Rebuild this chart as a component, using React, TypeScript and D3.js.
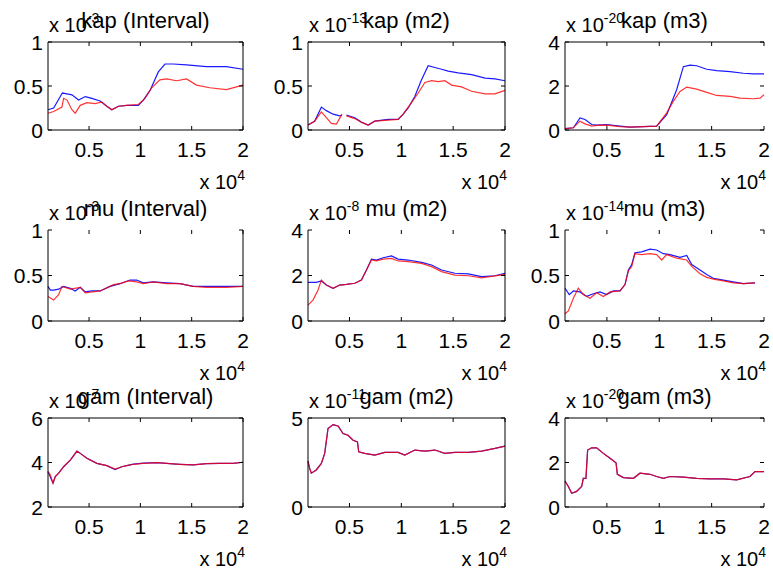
import React from "react";
import * as d3 from "d3";

type Pt = [number, number | null];

// x axis is shared by every panel (values in units of 10^4)
const xDomain = [0.1, 2];
const xTicks = [0.5, 1, 1.5, 2];
const xTickLabels = ["0.5", "1", "1.5", "2"];

// kap
const kapIntBlue: Pt[] = [[0.1,0.23],[0.155,0.25],[0.22,0.38],[0.24,0.42],[0.285,0.41],[0.333,0.4],[0.398,0.34],[0.463,0.38],[0.527,0.36],[0.608,0.33],[0.673,0.27],[0.722,0.23],[0.786,0.27],[0.867,0.28],[0.98,0.28],[1.029,0.34],[1.094,0.45],[1.175,0.66],[1.24,0.75],[1.32,0.75],[1.45,0.74],[1.644,0.72],[1.838,0.72],[2.0,0.69]];
const kapIntRed: Pt[] = [[0.1,0.19],[0.155,0.21],[0.236,0.26],[0.252,0.36],[0.285,0.34],[0.333,0.23],[0.365,0.19],[0.414,0.28],[0.479,0.31],[0.56,0.3],[0.624,0.32],[0.673,0.27],[0.722,0.23],[0.786,0.27],[0.867,0.28],[0.98,0.29],[1.045,0.36],[1.11,0.48],[1.19,0.57],[1.256,0.58],[1.353,0.56],[1.45,0.58],[1.547,0.51],[1.676,0.48],[1.838,0.46],[2.0,0.51]];
const kapM2Blue: Pt[] = [[0.1,0.056],[0.164,0.1],[0.229,0.26],[0.277,0.22],[0.342,0.18],[0.406,0.16],[0.428,0.17],[0.45,null],[0.47,0.17],[0.551,0.14],[0.615,0.09],[0.68,0.056],[0.744,0.1],[0.873,0.12],[0.969,0.12],[1.018,0.18],[1.066,0.25],[1.13,0.38],[1.195,0.57],[1.259,0.73],[1.324,0.71],[1.388,0.69],[1.452,0.67],[1.549,0.65],[1.678,0.63],[1.807,0.59],[1.903,0.58],[2.0,0.56]];
const kapM2Red: Pt[] = [[0.1,0.056],[0.164,0.1],[0.229,0.205],[0.277,0.14],[0.325,0.075],[0.374,0.067],[0.428,0.18],[0.45,null],[0.47,0.16],[0.551,0.13],[0.615,0.086],[0.68,0.056],[0.744,0.1],[0.969,0.12],[1.018,0.18],[1.098,0.31],[1.163,0.42],[1.227,0.54],[1.291,0.56],[1.356,0.55],[1.42,0.56],[1.485,0.51],[1.581,0.49],[1.678,0.44],[1.807,0.41],[1.903,0.41],[2.0,0.45]];
const kapM3Blue: Pt[] = [[0.1,0.06],[0.18,0.1],[0.243,0.55],[0.291,0.48],[0.355,0.25],[0.402,0.22],[0.498,0.25],[0.625,0.18],[0.721,0.13],[0.848,0.15],[0.975,0.18],[1.071,0.7],[1.166,1.83],[1.23,2.88],[1.294,2.95],[1.357,2.92],[1.453,2.76],[1.548,2.7],[1.676,2.65],[1.803,2.58],[1.898,2.55],[2.0,2.55]];
const kapM3Red: Pt[] = [[0.1,0.06],[0.18,0.1],[0.243,0.4],[0.291,0.28],[0.355,0.18],[0.402,0.21],[0.498,0.22],[0.625,0.15],[0.721,0.13],[0.975,0.18],[1.071,0.78],[1.134,1.3],[1.198,1.75],[1.262,1.95],[1.357,1.86],[1.453,1.71],[1.548,1.57],[1.676,1.53],[1.771,1.45],[1.898,1.42],[1.962,1.45],[2.0,1.6]];

// mu
const muIntBlue: Pt[] = [[0.1,0.38],[0.123,0.34],[0.155,0.34],[0.204,0.35],[0.252,0.38],[0.317,0.36],[0.365,0.33],[0.414,0.37],[0.463,0.32],[0.527,0.33],[0.608,0.33],[0.705,0.38],[0.802,0.41],[0.9,0.45],[0.964,0.45],[1.029,0.42],[1.126,0.43],[1.256,0.42],[1.385,0.41],[1.515,0.38],[1.644,0.38],[1.838,0.38],[2.0,0.38]];
const muIntRed: Pt[] = [[0.1,0.27],[0.155,0.23],[0.204,0.29],[0.236,0.38],[0.317,0.35],[0.414,0.37],[0.463,0.31],[0.608,0.33],[0.738,0.4],[0.802,0.41],[0.883,0.44],[0.964,0.43],[1.029,0.41],[1.126,0.43],[1.256,0.41],[1.385,0.41],[1.515,0.38],[1.644,0.37],[1.838,0.37],[2.0,0.38]];
const muM2Blue: Pt[] = [[0.1,1.7],[0.18,1.7],[0.229,1.76],[0.277,1.58],[0.342,1.44],[0.406,1.58],[0.47,1.61],[0.551,1.66],[0.615,1.8],[0.664,2.24],[0.712,2.72],[0.76,2.68],[0.825,2.78],[0.905,2.86],[0.969,2.72],[1.066,2.68],[1.195,2.58],[1.291,2.46],[1.388,2.24],[1.517,2.1],[1.646,2.07],[1.774,1.95],[1.903,1.99],[2.0,2.1]];
const muM2Red: Pt[] = [[0.1,0.7],[0.148,0.92],[0.197,1.36],[0.229,1.8],[0.277,1.58],[0.342,1.44],[0.406,1.58],[0.47,1.61],[0.551,1.66],[0.615,1.8],[0.664,2.24],[0.712,2.68],[0.76,2.64],[0.825,2.72],[0.905,2.75],[0.969,2.64],[1.066,2.61],[1.195,2.53],[1.291,2.39],[1.388,2.17],[1.517,2.02],[1.646,1.99],[1.774,1.9],[1.903,1.98],[2.0,2.05]];
const muM3Blue: Pt[] = [[0.1,0.36],[0.141,0.29],[0.18,0.33],[0.243,0.32],[0.307,0.27],[0.371,0.3],[0.434,0.32],[0.498,0.29],[0.562,0.33],[0.625,0.33],[0.673,0.4],[0.705,0.56],[0.737,0.62],[0.768,0.75],[0.832,0.76],[0.912,0.79],[0.975,0.78],[1.039,0.74],[1.103,0.73],[1.198,0.7],[1.262,0.72],[1.31,0.62],[1.389,0.56],[1.453,0.51],[1.516,0.47],[1.612,0.45],[1.707,0.43],[1.803,0.41],[1.914,0.42]];
const muM3Red: Pt[] = [[0.1,0.08],[0.132,0.11],[0.18,0.25],[0.227,0.36],[0.275,0.29],[0.339,0.25],[0.402,0.31],[0.466,0.27],[0.53,0.32],[0.625,0.33],[0.673,0.4],[0.705,0.55],[0.737,0.6],[0.768,0.74],[0.832,0.73],[0.912,0.74],[0.975,0.73],[1.023,0.67],[1.071,0.73],[1.166,0.69],[1.262,0.67],[1.31,0.6],[1.389,0.52],[1.453,0.48],[1.516,0.46],[1.612,0.44],[1.707,0.42],[1.803,0.41],[1.914,0.42]];

// gam
const gamIntBlue: Pt[] = [[0.1,3.59],[0.123,3.35],[0.149,3.07],[0.171,3.37],[0.204,3.52],[0.252,3.81],[0.317,4.11],[0.382,4.51],[0.414,4.41],[0.479,4.19],[0.576,3.96],[0.673,3.86],[0.754,3.68],[0.819,3.81],[0.867,3.86],[0.932,3.93],[1.029,3.97],[1.158,3.99],[1.256,3.96],[1.385,3.92],[1.515,3.89],[1.644,3.95],[1.774,3.96],[1.903,3.96],[2.0,4.01]];
const gamIntRed: Pt[] = [[0.1,3.59],[0.123,3.44],[0.149,3.07],[0.171,3.37],[0.204,3.52],[0.252,3.81],[0.317,4.11],[0.382,4.51],[0.414,4.41],[0.479,4.19],[0.576,3.96],[0.673,3.86],[0.754,3.7],[0.819,3.81],[0.867,3.86],[0.932,3.92],[1.029,3.96],[1.158,3.99],[1.256,3.96],[1.385,3.92],[1.515,3.89],[1.644,3.95],[1.774,3.96],[1.903,3.96],[2.0,4.01]];
const gamM2Blue: Pt[] = [[0.1,2.58],[0.116,2.17],[0.132,1.9],[0.18,2.08],[0.229,2.45],[0.261,3.01],[0.293,4.41],[0.342,4.63],[0.39,4.55],[0.438,4.13],[0.486,4.03],[0.535,3.75],[0.577,3.66],[0.589,3.1],[0.647,3.01],[0.744,2.92],[0.841,3.07],[0.969,3.07],[1.034,2.92],[1.13,3.2],[1.227,3.14],[1.324,3.2],[1.42,3.01],[1.517,3.07],[1.646,3.07],[1.774,3.14],[1.903,3.29],[2.0,3.42]];
const gamM2Red: Pt[] = [[0.1,2.58],[0.116,2.17],[0.132,1.9],[0.18,2.08],[0.229,2.45],[0.261,3.01],[0.293,4.41],[0.342,4.63],[0.39,4.55],[0.438,4.13],[0.486,4.03],[0.535,3.75],[0.577,3.66],[0.589,3.1],[0.647,3.01],[0.744,2.92],[0.841,3.07],[0.969,3.07],[1.034,2.92],[1.13,3.2],[1.227,3.14],[1.324,3.2],[1.42,3.01],[1.517,3.07],[1.646,3.07],[1.774,3.14],[1.903,3.29],[2.0,3.42]];
const gamM3Blue: Pt[] = [[0.1,1.17],[0.132,0.92],[0.164,0.62],[0.211,0.7],[0.259,0.92],[0.275,1.29],[0.3,1.29],[0.316,2.56],[0.355,2.66],[0.402,2.66],[0.466,2.41],[0.53,2.19],[0.587,1.99],[0.6,1.47],[0.657,1.32],[0.753,1.29],[0.816,1.52],[0.912,1.47],[0.975,1.37],[1.039,1.29],[1.103,1.37],[1.23,1.34],[1.357,1.29],[1.485,1.26],[1.612,1.26],[1.739,1.22],[1.866,1.37],[1.914,1.59],[2.0,1.59]];
const gamM3Red: Pt[] = [[0.1,1.17],[0.132,0.92],[0.164,0.62],[0.211,0.7],[0.259,0.92],[0.275,1.29],[0.3,1.29],[0.316,2.56],[0.355,2.66],[0.402,2.66],[0.466,2.41],[0.53,2.19],[0.587,1.99],[0.6,1.47],[0.657,1.32],[0.753,1.29],[0.816,1.52],[0.912,1.47],[0.975,1.37],[1.039,1.29],[1.103,1.37],[1.23,1.34],[1.357,1.29],[1.485,1.26],[1.612,1.26],[1.739,1.22],[1.866,1.37],[1.914,1.59],[2.0,1.59]];

const titles = [
  "kap (Interval)", "kap (m2)", "kap (m3)",
  "mu (Interval)", "mu (m2)", "mu (m3)",
  "gam (Interval)", "gam (m2)", "gam (m3)",
];
const yExponents = ["-3", "-13", "-20", "-3", "-8", "-14", "-7", "-11", "-20"];
const yDomains = [[0, 1], [0, 1], [0, 4], [0, 1], [0, 4], [0, 1], [2, 6], [0, 5], [0, 4]];
const yTickValues = [
  [0, 0.5, 1], [0, 0.5, 1], [0, 2, 4],
  [0, 0.5, 1], [0, 2, 4], [0, 0.5, 1],
  [2, 4, 6], [0, 5], [0, 2, 4],
];
const blueSeries = [kapIntBlue, kapM2Blue, kapM3Blue, muIntBlue, muM2Blue, muM3Blue, gamIntBlue, gamM2Blue, gamM3Blue];
const redSeries = [kapIntRed, kapM2Red, kapM3Red, muIntRed, muM2Red, muM3Red, gamIntRed, gamM2Red, gamM3Red];

const COLS = [[48, 243], [308, 505], [565, 764]];
const ROWS = [[42, 130], [230, 321], [418, 507]];
const FONT = "'Liberation Sans', Arial, Helvetica, sans-serif";
const TICK = 4;

function Panel({ i }: { i: number }) {
  const col = i % 3;
  const row = Math.floor(i / 3);
  const [x0, x1] = COLS[col];
  const [y0, y1] = ROWS[row];
  const x = d3.scaleLinear().domain(xDomain).range([x0, x1]);
  const y = d3.scaleLinear().domain(yDomains[i]).range([y1, y0]);
  const line = d3
    .line<Pt>()
    .defined((d) => d[1] !== null)
    .x((d) => x(d[0]))
    .y((d) => y(d[1] as number));

  // the scan lost some box edges: no top line in the middle row, no right line in the last column
  const showTop = row !== 1;
  const showRight = col !== 2;

  return (
    <g>
      <path d={line(blueSeries[i]) || ""} fill="none" stroke="#1a1aff" strokeWidth={1.2} />
      <path d={line(redSeries[i]) || ""} fill="none" stroke="#ff0000" strokeWidth={1.2} strokeOpacity={0.8} />

      <g stroke="#000" strokeWidth={1} fill="none">
        <line x1={x0} x2={x0} y1={y0} y2={y1} />
        <line x1={x0} x2={x1} y1={y1} y2={y1} />
        {showTop && <line x1={x0} x2={x1} y1={y0} y2={y0} />}
        {showRight && <line x1={x1} x2={x1} y1={y0} y2={y1} />}
        {xTicks.map((t) => (
          <g key={"xt" + t}>
            <line x1={x(t)} x2={x(t)} y1={y1} y2={y1 - TICK} />
            <line x1={x(t)} x2={x(t)} y1={y0} y2={y0 + TICK} />
          </g>
        ))}
        {yTickValues[i].map((t) => (
          <g key={"yt" + t}>
            <line x1={x0} x2={x0 + TICK} y1={y(t)} y2={y(t)} />
            <line x1={x1} x2={x1 - TICK} y1={y(t)} y2={y(t)} />
          </g>
        ))}
      </g>

      <g fontFamily={FONT} fill="#000">
        {xTicks.map((t, k) => (
          <text key={"xl" + t} x={x(t)} y={y1 + 27} fontSize={21} textAnchor="middle">
            {xTickLabels[k]}
          </text>
        ))}
        {yTickValues[i].map((t) => (
          <text key={"yl" + t} x={x0 - 5} y={y(t)} dy="0.36em" fontSize={21} textAnchor="end">
            {String(t)}
          </text>
        ))}
        <text x={x0 + 1} y={y0 - 10} fontSize={20}>
          x 10<tspan dy={-9} fontSize={14}>{yExponents[i]}</tspan>
        </text>
        <text x={(x0 + x1) / 2} y={y0 - 14} fontSize={22} textAnchor="middle">
          {titles[i]}
        </text>
        <text x={x1 + 2} y={y1 + 59} fontSize={20} textAnchor="end">
          x 10<tspan dy={-9} fontSize={14}>4</tspan>
        </text>
      </g>
    </g>
  );
}

export default function App() {
  return (
    <svg
      width={773}
      height={575}
      style={{ position: "absolute", left: 0, top: 0, background: "#fff" }}
    >
      <rect width={773} height={575} fill="#fff" />
      {titles.map((_, i) => (
        <Panel key={i} i={i} />
      ))}
    </svg>
  );
}
